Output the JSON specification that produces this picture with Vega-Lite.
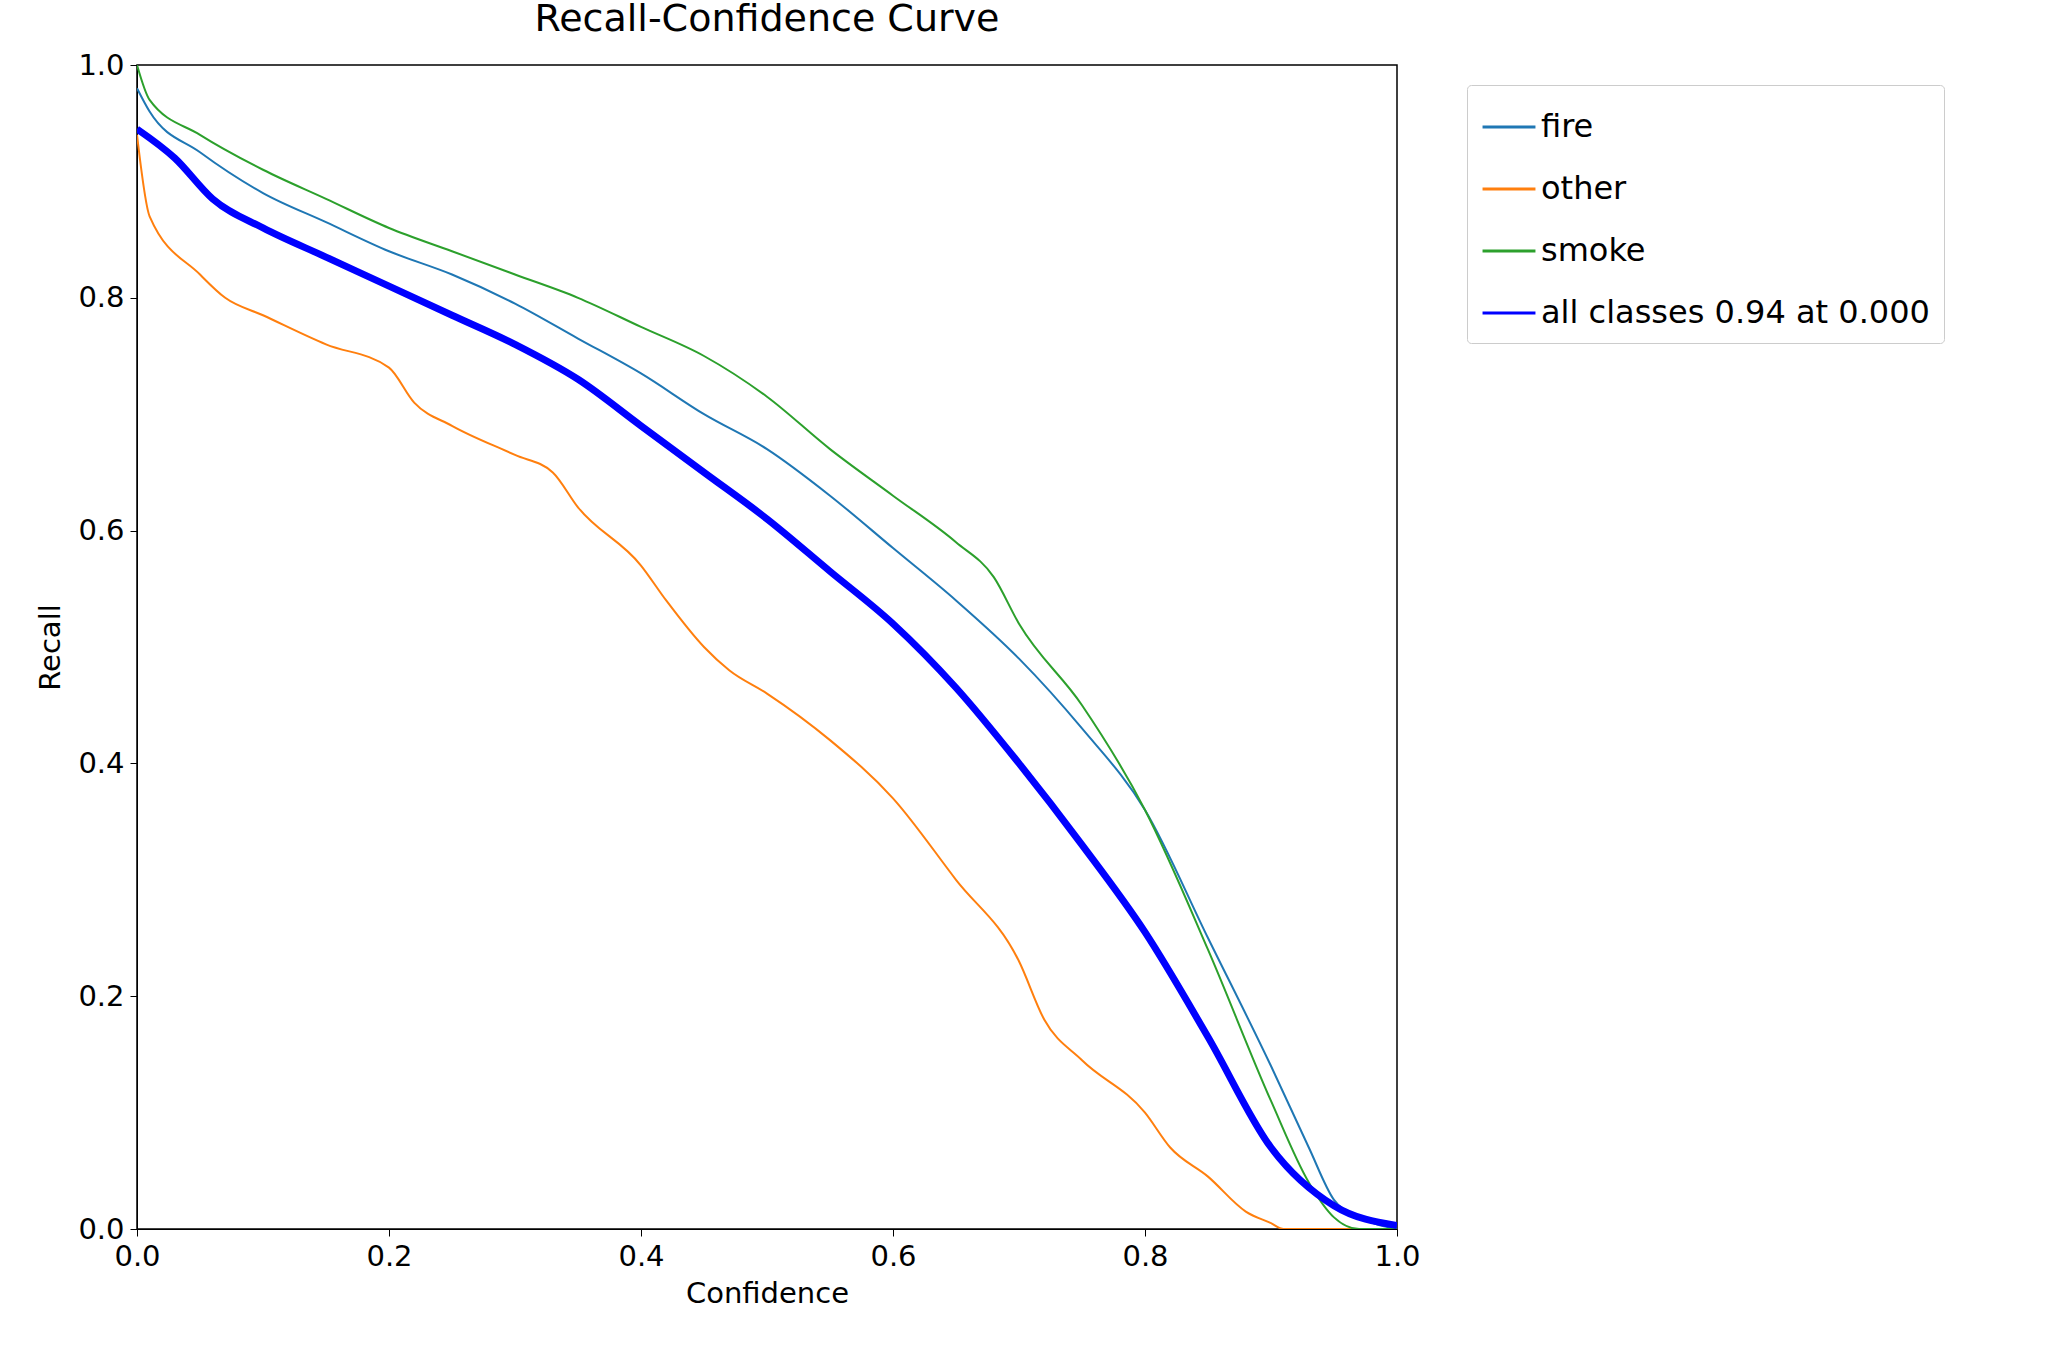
{
  "$schema": "https://vega.github.io/schema/vega-lite/v6.json",
  "width": 1260,
  "height": 1164,
  "autosize": "none",
  "padding": {"left": 137, "top": 65, "right": 651, "bottom": 118},
  "background": "white",
  "title": {"text": "Recall-Confidence Curve", "fontSize": 38, "fontWeight": "normal", "font": "DejaVu Sans", "offset": 12, "color": "black"},
  "config": {
    "font": "DejaVu Sans",
    "view": {"stroke": "black", "strokeWidth": 1.5},
    "axis": {"grid": false, "domainColor": "black", "tickColor": "black", "labelColor": "black", "titleColor": "black", "labelFontSize": 29, "titleFontSize": 29, "titleFontWeight": "normal", "tickSize": 7, "labelPadding": 6, "labelFlush": false}
  },
  "data": {"values": [
    {"c":0,"r":0.98,"s":"fire"},{"c":0.01,"r":0.96,"s":"fire"},{"c":0.05,"r":0.925,"s":"fire"},{"c":0.1,"r":0.89,"s":"fire"},{"c":0.15,"r":0.865,"s":"fire"},{"c":0.2,"r":0.84,"s":"fire"},{"c":0.25,"r":0.82,"s":"fire"},{"c":0.3,"r":0.795,"s":"fire"},{"c":0.35,"r":0.765,"s":"fire"},{"c":0.4,"r":0.735,"s":"fire"},{"c":0.45,"r":0.7,"s":"fire"},{"c":0.5,"r":0.67,"s":"fire"},{"c":0.55,"r":0.63,"s":"fire"},{"c":0.6,"r":0.585,"s":"fire"},{"c":0.65,"r":0.54,"s":"fire"},{"c":0.7,"r":0.49,"s":"fire"},{"c":0.75,"r":0.43,"s":"fire"},{"c":0.8,"r":0.36,"s":"fire"},{"c":0.85,"r":0.25,"s":"fire"},{"c":0.9,"r":0.14,"s":"fire"},{"c":0.93,"r":0.07,"s":"fire"},{"c":0.95,"r":0.025,"s":"fire"},{"c":0.97,"r":0.01,"s":"fire"},{"c":1.0,"r":0,"s":"fire"},
    {"c":0,"r":0.94,"s":"other"},{"c":0.01,"r":0.87,"s":"other"},{"c":0.05,"r":0.82,"s":"other"},{"c":0.07,"r":0.8,"s":"other"},{"c":0.1,"r":0.785,"s":"other"},{"c":0.15,"r":0.76,"s":"other"},{"c":0.2,"r":0.74,"s":"other"},{"c":0.22,"r":0.71,"s":"other"},{"c":0.25,"r":0.69,"s":"other"},{"c":0.3,"r":0.665,"s":"other"},{"c":0.33,"r":0.65,"s":"other"},{"c":0.35,"r":0.62,"s":"other"},{"c":0.4,"r":0.57,"s":"other"},{"c":0.42,"r":0.54,"s":"other"},{"c":0.45,"r":0.5,"s":"other"},{"c":0.47,"r":0.48,"s":"other"},{"c":0.5,"r":0.46,"s":"other"},{"c":0.55,"r":0.42,"s":"other"},{"c":0.6,"r":0.37,"s":"other"},{"c":0.65,"r":0.3,"s":"other"},{"c":0.7,"r":0.23,"s":"other"},{"c":0.72,"r":0.18,"s":"other"},{"c":0.75,"r":0.145,"s":"other"},{"c":0.8,"r":0.1,"s":"other"},{"c":0.82,"r":0.07,"s":"other"},{"c":0.85,"r":0.045,"s":"other"},{"c":0.88,"r":0.015,"s":"other"},{"c":0.9,"r":0.005,"s":"other"},{"c":0.91,"r":0,"s":"other"},{"c":1.0,"r":0,"s":"other"},
    {"c":0,"r":1.0,"s":"smoke"},{"c":0.01,"r":0.97,"s":"smoke"},{"c":0.05,"r":0.94,"s":"smoke"},{"c":0.1,"r":0.91,"s":"smoke"},{"c":0.15,"r":0.885,"s":"smoke"},{"c":0.2,"r":0.86,"s":"smoke"},{"c":0.25,"r":0.84,"s":"smoke"},{"c":0.3,"r":0.82,"s":"smoke"},{"c":0.35,"r":0.8,"s":"smoke"},{"c":0.4,"r":0.775,"s":"smoke"},{"c":0.45,"r":0.75,"s":"smoke"},{"c":0.5,"r":0.715,"s":"smoke"},{"c":0.55,"r":0.67,"s":"smoke"},{"c":0.6,"r":0.63,"s":"smoke"},{"c":0.65,"r":0.59,"s":"smoke"},{"c":0.68,"r":0.56,"s":"smoke"},{"c":0.7,"r":0.52,"s":"smoke"},{"c":0.75,"r":0.45,"s":"smoke"},{"c":0.8,"r":0.36,"s":"smoke"},{"c":0.85,"r":0.24,"s":"smoke"},{"c":0.9,"r":0.11,"s":"smoke"},{"c":0.93,"r":0.04,"s":"smoke"},{"c":0.95,"r":0.01,"s":"smoke"},{"c":0.97,"r":0,"s":"smoke"},{"c":1.0,"r":0,"s":"smoke"},
    {"c":0,"r":0.945,"s":"all classes 0.94 at 0.000"},{"c":0.03,"r":0.92,"s":"all classes 0.94 at 0.000"},{"c":0.06,"r":0.885,"s":"all classes 0.94 at 0.000"},{"c":0.1,"r":0.86,"s":"all classes 0.94 at 0.000"},{"c":0.15,"r":0.835,"s":"all classes 0.94 at 0.000"},{"c":0.2,"r":0.81,"s":"all classes 0.94 at 0.000"},{"c":0.25,"r":0.785,"s":"all classes 0.94 at 0.000"},{"c":0.3,"r":0.76,"s":"all classes 0.94 at 0.000"},{"c":0.35,"r":0.73,"s":"all classes 0.94 at 0.000"},{"c":0.4,"r":0.69,"s":"all classes 0.94 at 0.000"},{"c":0.45,"r":0.65,"s":"all classes 0.94 at 0.000"},{"c":0.5,"r":0.61,"s":"all classes 0.94 at 0.000"},{"c":0.55,"r":0.565,"s":"all classes 0.94 at 0.000"},{"c":0.6,"r":0.52,"s":"all classes 0.94 at 0.000"},{"c":0.65,"r":0.465,"s":"all classes 0.94 at 0.000"},{"c":0.7,"r":0.4,"s":"all classes 0.94 at 0.000"},{"c":0.75,"r":0.33,"s":"all classes 0.94 at 0.000"},{"c":0.8,"r":0.255,"s":"all classes 0.94 at 0.000"},{"c":0.85,"r":0.165,"s":"all classes 0.94 at 0.000"},{"c":0.9,"r":0.07,"s":"all classes 0.94 at 0.000"},{"c":0.95,"r":0.02,"s":"all classes 0.94 at 0.000"},{"c":1.0,"r":0.003,"s":"all classes 0.94 at 0.000"}
  ]},
  "mark": {"type": "line", "clip": true, "interpolate": "monotone"},
  "encoding": {
    "x": {"field": "c", "type": "quantitative", "title": "Confidence", "scale": {"domain": [0, 1], "nice": false}, "axis": {"values": [0, 0.2, 0.4, 0.6, 0.8, 1.0], "format": ".1f", "titlePadding": 8}},
    "y": {"field": "r", "type": "quantitative", "title": "Recall", "scale": {"domain": [0, 1], "nice": false}, "axis": {"values": [0, 0.2, 0.4, 0.6, 0.8, 1.0], "format": ".1f", "titlePadding": 12}},
    "color": {"field": "s", "type": "nominal", "sort": null, "scale": {"domain": ["fire", "other", "smoke", "all classes 0.94 at 0.000"], "range": ["#1f77b4", "#ff7f0e", "#2ca02c", "#0000ff"]},
      "legend": {"title": null, "orient": "none", "legendX": 1330, "legendY": 20, "symbolType": "stroke", "symbolSize": 2800, "symbolStrokeWidth": 3, "labelFontSize": 32, "labelLimit": 0, "labelColor": "black", "rowPadding": 18, "padding": 14, "strokeColor": "#cccccc", "cornerRadius": 4, "fillColor": "white"}},
    "strokeWidth": {"condition": {"test": "datum.s === 'all classes 0.94 at 0.000'", "value": 7}, "value": 2},
    "order": {"field": "s", "sort": "ascending"}
  }
}
